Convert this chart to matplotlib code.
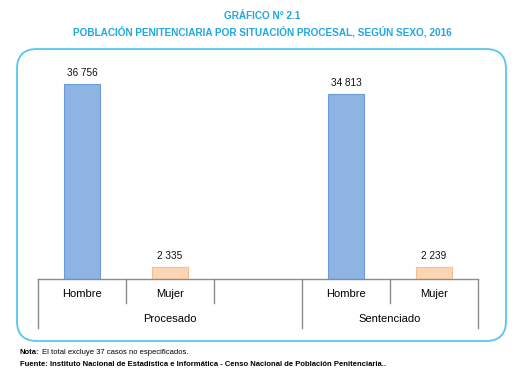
import matplotlib
matplotlib.use("Agg")
import matplotlib.pyplot as plt
from matplotlib.patches import FancyBboxPatch
from matplotlib.transforms import blended_transform_factory

plt.rcParams["font.family"] = ["Liberation Sans", "DejaVu Sans"]

# data
groups = ["Procesado", "Sentenciado"]
sexes = ["Hombre", "Mujer"]
procesado = [36756, 2335]
sentenciado = [34813, 2239]

TITLE_BLUE = "#1FA8E0"
GRID = "#8C8C8C"
MALE, MALE_EDGE = "#8EB4E3", "#6A9BDB"
FEMALE, FEMALE_EDGE = "#FCD5B5", "#F8BE90"

W, H = 524, 389
fig = plt.figure(figsize=(W / 100, H / 100), dpi=100)


def fx(px):
    return px / W


def fy(py):
    return 1 - py / H


# rounded frame
frame = FancyBboxPatch((0.17, (H - 341) / 100), 4.89, 2.92,
                       boxstyle="round,pad=0,rounding_size=0.2",
                       transform=fig.dpi_scale_trans, fill=False,
                       edgecolor="#55C6F2", linewidth=1.3)
fig.patches.append(frame)

fig.text(0.5, fy(16), "GRÁFICO N° 2.1", ha="center", va="center",
         color=TITLE_BLUE, fontsize=7.2, fontweight="bold")
fig.text(0.5, fy(32), "POBLACIÓN PENITENCIARIA POR SITUACIÓN PROCESAL, SEGÚN SEXO, 2016",
         ha="center", va="center", color=TITLE_BLUE, fontsize=7.2, fontweight="bold")

ax = fig.add_axes([fx(38), fy(279), fx(478) - fx(38), fy(60) - fy(279)])
ax.set_xlim(-0.5, 4.5)
ax.set_ylim(0, 41280)
ax.axis("off")

slots = [0, 1, 3, 4]
values = procesado + sentenciado
colors = [MALE, FEMALE, MALE, FEMALE]
edges = [MALE_EDGE, FEMALE_EDGE, MALE_EDGE, FEMALE_EDGE]
ax.bar(slots, values, width=0.41, color=colors, edgecolor=edges, linewidth=0.8)
for x, v in zip(slots, values):
    ax.text(x, v + 1150, f"{v:,}".replace(",", " "), ha="center", va="bottom",
            fontsize=7.2, color="#111111")

# category table under the bars
tr = blended_transform_factory(ax.transData, ax.transAxes)
px_per_axes = fy(60) - fy(279)


def ay(py):
    return (fy(py) - fy(279)) / px_per_axes


ax.plot([-0.5, 4.5], [0, 0], color=GRID, lw=1, transform=tr, clip_on=False)
for x in [-0.5, 2.5, 4.5]:
    ax.plot([x, x], [0, ay(328)], color=GRID, lw=1, transform=tr, clip_on=False)
for x in [0.5, 1.5, 3.5]:
    ax.plot([x, x], [0, ay(303)], color=GRID, lw=1, transform=tr, clip_on=False)

labels = sexes + sexes
for x, lab in zip(slots, labels):
    ax.text(x, ay(294), lab, ha="center", va="center", fontsize=8,
            transform=tr, clip_on=False)
for x, g in zip([1, 3.5], groups):
    ax.text(x, ay(319), g, ha="center", va="center", fontsize=8,
            transform=tr, clip_on=False)

# footnotes
nota = fig.text(fx(20), fy(353), "Nota:", fontsize=5.5, va="center",
                fontweight="bold")
renderer = fig.canvas.get_renderer()
x_end = nota.get_window_extent(renderer).x1
fig.text((x_end + 2) / W, fy(353), "El total excluye 37 casos no especificados.",
         fontsize=5.5, va="center")
fig.text(fx(20), fy(364),
         "Fuente: Instituto Nacional de Estadística e Informática - Censo Nacional de Población Penitenciaria..",
         fontsize=5.5, va="center", fontweight="bold")

fig.savefig("out.png", dpi=100, facecolor="white")
